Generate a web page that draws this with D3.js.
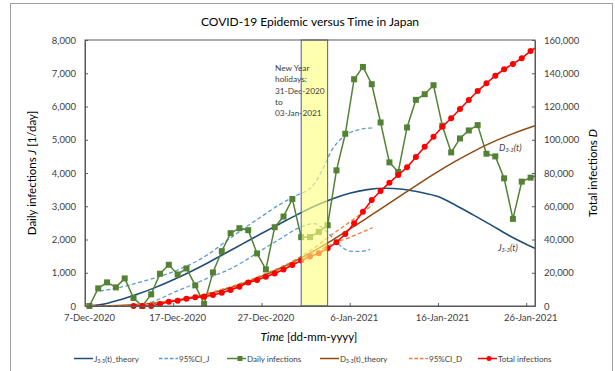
<!DOCTYPE html>
<html>
<head>
<meta charset="utf-8">
<script src="https://cdn.jsdelivr.net/npm/d3@7"></script>
<style>
  body { margin: 0; background: #fff; }
  svg { font-family: Lato, "Open Sans", sans-serif; }
</style>
</head>
<body>
<div id="chart"></div>
<script>
// daily reported infections, one value per day from 7-Dec-2020
var firstDay = Date.UTC(2020, 11, 7);
var dailyCases = [0, 530, 710, 560, 830, 240, 0, 350, 970, 1240, 950, 1130, 620, 60,
  1010, 1650, 2190, 2340, 2280, 1580, 1100, 2370, 2690, 3220, 2070,
  2070, 2230, 2430, 4080, 5180, 6820, 7190, 6670, 5520, 4320, 4030, 5370, 6200,
  6370, 6640, 5420, 4620, 5040, 5280, 5440, 4580, 4500, 3840, 2620, 3740, 3860, 3950];

// total infections, one value per day from 12-Dec-2020
var totalStart = 5;
var totalCases = [0, 0, 0, 1200, 2600, 3200, 4400, 5200, 5600, 6600, 8000, 9600, 11600,
  14200, 15600, 17600, 19600, 22000, 24700, 27300, 29700, 31700, 34700, 38300, 43300,
  49700, 56700, 63800, 69200, 74200, 78800, 83400, 89600, 95800, 101800, 107800, 112900,
  118500, 123900, 129300, 134000, 138500, 142400, 145600, 149000, 153400, 156800];

// theory curves, sampled every 2 days (day 0 = 7-Dec-2020)
var theoryDays = [0, 2, 4, 6, 8, 10, 12, 14, 16, 18, 20, 22, 24, 26, 28, 30, 32, 34, 36, 38, 40, 42, 44, 46, 48, 50, 51];
var jTheory = [0, 50, 190, 360, 560, 790, 1040, 1310, 1600, 1890, 2180, 2460, 2740, 3000, 3220, 3390, 3500, 3540, 3510, 3420, 3290, 3030, 2740, 2440, 2130, 1860, 1735];
var dTheory = [0, 50, 290, 840, 1760, 3110, 4940, 7290, 10200, 13700, 17800, 22400, 27600, 33300, 39500, 46200, 53100, 60100, 67200, 74100, 80800, 87100, 92900, 98100, 102600, 106600, 108400];

// 95% confidence intervals
var ciJUpDays = [1.7, 4, 6, 8, 10, 12, 14, 16, 18, 20, 22, 24, 25, 26, 27, 28, 29, 30, 31, 32.6];
var ciJUp = [450, 560, 700, 850, 1030, 1260, 1560, 1950, 2330, 2690, 3040, 3330, 3450, 3680, 4150, 4700, 5020, 5210, 5300, 5360];
var ciJLoDays = [6, 8, 10, 12, 14, 16, 18, 20, 22, 24, 25, 26, 27, 28, 29, 30, 31, 32.3];
var ciJLo = [0, 160, 400, 620, 850, 1060, 1340, 1680, 2000, 2320, 2430, 2480, 2330, 2070, 1800, 1650, 1640, 1700];
var ciDDays = [0, 4, 8, 12, 16, 20, 24, 26, 28, 30, 32.6];
var ciDUp = [0, 400, 2100, 5400, 10800, 18500, 28300, 35000, 43000, 50500, 60800];
var ciDLo = [0, 200, 1500, 4600, 9700, 17100, 26900, 32000, 37300, 41300, 47100];

var leftTicks = [0, 1000, 2000, 3000, 4000, 5000, 6000, 7000, 8000];
var rightTicks = [0, 20000, 40000, 60000, 80000, 100000, 120000, 140000, 160000];
var xTickDates = ["2020-12-07", "2020-12-17", "2020-12-27", "2021-01-06", "2021-01-16", "2021-01-26"];
var holiday = ["2020-12-31", "2021-01-03"];

var W = 615, H = 371;
var m = {left: 85, top: 40, right: 80, bottom: 65};
var DAY = 86400000;

var svg = d3.select('#chart').append('svg')
  .attr('width', W).attr('height', H);

svg.append('rect')
  .attr('x', 10.5).attr('y', 3.5).attr('width', 602).attr('height', 380)
  .attr('fill', '#fff').attr('stroke', '#a0a0a0');

var x = d3.scaleUtc()
  .domain([new Date(firstDay), new Date(Date.UTC(2021, 0, 27))])
  .range([m.left, W - m.right]);
var yL = d3.scaleLinear().domain([0, 8000]).range([H - m.bottom, m.top]);
var yR = d3.scaleLinear().domain([0, 160000]).range([H - m.bottom, m.top]);

function dayDate(d) { return new Date(firstDay + d * DAY); }
function parse(s) { return d3.utcParse('%Y-%m-%d')(s); }

svg.append('clipPath').attr('id', 'plot')
  .append('rect')
  .attr('x', m.left).attr('y', m.top - 4)
  .attr('width', W - m.right - m.left).attr('height', H - m.bottom - m.top + 8);

var g = svg.append('g').attr('clip-path', 'url(#plot)');

function curve(days, vals, yScale) {
  return d3.line()
    .x(function(d, i) { return x(dayDate(days[i])); })
    .y(function(d) { return yScale(d); })
    .curve(d3.curveMonotoneX)(vals);
}
function dashed(path, color) {
  return path.attr('fill', 'none').attr('stroke', color)
    .attr('stroke-width', 1.3).attr('stroke-dasharray', '4,2.5');
}

// J theory + CI
g.append('path').attr('d', curve(theoryDays, jTheory, yL))
  .attr('fill', 'none').attr('stroke', '#1f4e79').attr('stroke-width', 1.6);
dashed(g.append('path').attr('d', curve(ciJUpDays, ciJUp, yL)), '#5b9bd5');
dashed(g.append('path').attr('d', curve(ciJLoDays, ciJLo, yL)), '#5b9bd5');

// daily infections
var dailyX = function(d, i) { return x(dayDate(i + 0.5)); };
g.append('path')
  .attr('d', d3.line().x(dailyX).y(function(d) { return yL(d); })(dailyCases))
  .attr('fill', 'none').attr('stroke', '#548235').attr('stroke-width', 1.5);
g.selectAll('rect.daily')
  .data(dailyCases)
  .enter().append('rect')
  .attr('class', 'daily')
  .attr('x', function(d, i) { return dailyX(d, i) - 3; })
  .attr('y', function(d) { return yL(d) - 3; })
  .attr('width', 6).attr('height', 6)
  .attr('fill', '#548235');

// D theory + CI
g.append('path').attr('d', curve(theoryDays, dTheory, yR))
  .attr('fill', 'none').attr('stroke', '#8e4a10').attr('stroke-width', 1.5);
dashed(g.append('path').attr('d', curve(ciDDays, ciDUp, yR)), '#ed7d31');
dashed(g.append('path').attr('d', curve(ciDDays, ciDLo, yR)), '#ed7d31');

// total infections
var totalX = function(d, i) { return x(dayDate(i + totalStart + 0.5)); };
g.append('path')
  .attr('d', d3.line().x(totalX).y(function(d) { return yR(d); })(totalCases))
  .attr('fill', 'none').attr('stroke', '#ff0000').attr('stroke-width', 1.6);
g.selectAll('circle.total')
  .data(totalCases)
  .enter().append('circle')
  .attr('class', 'total')
  .attr('cx', totalX)
  .attr('cy', function(d) { return yR(d); })
  .attr('r', 3)
  .attr('fill', '#ff0000');

// new year band, drawn over the lines
var hx0 = x(new Date(+parse(holiday[0]) + DAY / 2));
var hx1 = x(new Date(+parse(holiday[1]) + DAY / 2));
svg.append('rect')
  .attr('x', hx0).attr('y', m.top)
  .attr('width', hx1 - hx0).attr('height', H - m.bottom - m.top)
  .attr('fill', '#ffff80').attr('fill-opacity', 0.62)
  .attr('stroke', '#3f5f9f').attr('stroke-width', 1);

// plot frame
svg.append('rect')
  .attr('x', m.left).attr('y', m.top)
  .attr('width', W - m.right - m.left).attr('height', H - m.bottom - m.top)
  .attr('fill', 'none').attr('stroke', '#595959').attr('stroke-width', 1);

// axes
var axL = svg.append('g').attr('transform', 'translate(' + m.left + ',0)')
  .call(d3.axisLeft(yL).tickValues(leftTicks).tickFormat(d3.format(',')).tickSizeInner(-3).tickSizeOuter(0).tickPadding(9));
var axR = svg.append('g').attr('transform', 'translate(' + (W - m.right) + ',0)')
  .call(d3.axisRight(yR).tickValues(rightTicks).tickFormat(d3.format(',')).tickSizeInner(-3).tickSizeOuter(0).tickPadding(9));
var axB = svg.append('g').attr('transform', 'translate(0,' + (H - m.bottom) + ')')
  .call(d3.axisBottom(x).tickValues(xTickDates.map(parse)).tickFormat(d3.utcFormat('%-d-%b-%Y')).tickSizeInner(-3).tickSizeOuter(0).tickPadding(8));
axB.selectAll('.tick text').attr('dx', 4);
[axL, axR, axB].forEach(function(a) {
  a.select('.domain').attr('stroke', '#595959');
  a.selectAll('.tick line').attr('stroke', '#595959');
  a.selectAll('.tick text').attr('fill', '#404040').style('font-size', '9.5px')
    .style('font-family', 'Lato, sans-serif');
});

// titles
svg.append('text').attr('x', 310).attr('y', 26).attr('text-anchor', 'middle')
  .style('font-size', '12px').attr('fill', '#000')
  .text('COVID-19 Epidemic versus Time in Japan');

var yt = svg.append('text').attr('transform', 'translate(36,173) rotate(-90)')
  .attr('text-anchor', 'middle').style('font-size', '11.5px').attr('fill', '#000');
yt.append('tspan').text('Daily infections ');
yt.append('tspan').style('font-style', 'italic').text('J');
yt.append('tspan').text(' [1/day]');

var yr = svg.append('text').attr('transform', 'translate(597,173) rotate(-90)')
  .attr('text-anchor', 'middle').style('font-size', '11.5px').attr('fill', '#000');
yr.append('tspan').text('Total infections ');
yr.append('tspan').style('font-style', 'italic').text('D');

var xt = svg.append('text').attr('x', 309).attr('y', 341).attr('text-anchor', 'middle')
  .style('font-size', '11.5px').attr('fill', '#000');
xt.append('tspan').style('font-style', 'italic').text('Time');
xt.append('tspan').text(' [dd-mm-yyyy]');

// annotations
var note = ['New Year', 'holidays:', '31-Dec-2020', 'to', '03-Jan-2021'];
svg.append('g').selectAll('text')
  .data(note).enter().append('text')
  .attr('x', 275).attr('y', function(d, i) { return 71 + i * 11.3; })
  .style('font-size', '8.3px').attr('fill', '#404040')
  .text(function(d) { return d; });

function subLabel(sel, main, sub, rest, size) {
  sel.append('tspan').text(main);
  sel.append('tspan').style('font-size', (size * 0.62) + 'px').attr('dy', 1).text(sub);
  sel.append('tspan').style('font-size', size + 'px').attr('dy', -1).text(rest);
}
var dl = svg.append('text').attr('x', 499).attr('y', 151).style('font-size', '9px')
  .style('font-style', 'italic').attr('fill', '#404040');
subLabel(dl, 'D', '3-3', '(t)', 9);
var jl = svg.append('text').attr('x', 498).attr('y', 251).style('font-size', '9px')
  .style('font-style', 'italic').attr('fill', '#404040');
subLabel(jl, 'J', '3-3', '(t)', 9);

// legend
var legend = [
  {x: 74, color: '#1f4e79', dash: null, mark: null, main: 'J', sub: '3-3', rest: '(t)_theory'},
  {x: 159, color: '#5b9bd5', dash: '3.5,2', mark: null, main: '95%CI_J', sub: '', rest: ''},
  {x: 227, color: '#548235', dash: null, mark: 'rect', main: 'Daily infections', sub: '', rest: ''},
  {x: 320, color: '#8e4a10', dash: null, mark: null, main: 'D', sub: '3-3', rest: '(t)_theory'},
  {x: 409, color: '#ed7d31', dash: '3.5,2', mark: null, main: '95%CI_D', sub: '', rest: ''},
  {x: 478, color: '#ff0000', dash: null, mark: 'circle', main: 'Total infections', sub: '', rest: ''}
];
var lg = svg.append('g').selectAll('g').data(legend).enter().append('g')
  .attr('transform', function(d) { return 'translate(' + d.x + ',358.5)'; });
lg.append('line').attr('x1', 0).attr('x2', 19).attr('y1', 0).attr('y2', 0)
  .attr('stroke', function(d) { return d.color; }).attr('stroke-width', 1.5)
  .attr('stroke-dasharray', function(d) { return d.dash; });
lg.filter(function(d) { return d.mark === 'rect'; }).append('rect')
  .attr('x', 10.5).attr('y', -2.5).attr('width', 5).attr('height', 5).attr('fill', '#548235');
lg.filter(function(d) { return d.mark === 'circle'; }).append('circle')
  .attr('cx', 11).attr('cy', 0).attr('r', 2.5).attr('fill', '#ff0000');
lg.append('text').attr('x', 20).attr('y', 3).style('font-size', '8px').attr('fill', '#404040')
  .each(function(d) {
    var t = d3.select(this);
    if (d.sub) subLabel(t, d.main, d.sub, d.rest, 8);
    else t.text(d.main);
  });
</script>
</body>
</html>
